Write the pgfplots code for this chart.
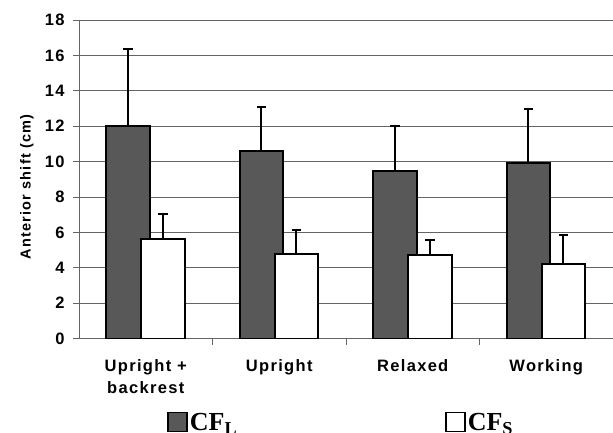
\documentclass[border=0pt]{standalone}
\usepackage{fontspec}
\setmainfont[LetterSpace=8]{Liberation Sans}
\newfontfamily\timesf{Liberation Serif}
\usepackage{pgfplots}
\pgfplotsset{compat=1.18}
\definecolor{darkbar}{RGB}{88,88,88}
\definecolor{gridc}{RGB}{100,100,100}
\begin{document}
\begin{tikzpicture}
\begin{axis}[
  scale only axis, width=534bp, height=318.5bp,
  xmin=0.5, xmax=4.5, ymin=0, ymax=18,
  ytick={0,2,...,18},
  axis x line*=bottom, axis y line*=left,
  axis line style={gridc, line width=0.8bp},
  ymajorgrids, grid style={gridc, line width=0.8bp},
  tick align=outside, major tick length=6bp,
  tick style={gridc, line width=0.8bp},
  xtick={1.5,2.5,3.5}, xticklabels={},
  extra x ticks={1,2,3,4},
  extra x tick labels={{Upright +\\backrest},Upright,Relaxed,Working},
  extra x tick style={major tick length=0pt, tick style={draw=none}},
  x tick label style={align=center, anchor=north, font=\fontsize{16.5bp}{21.5bp}\selectfont\bfseries, yshift=-18bp},
  y tick label style={font=\fontsize{16.5bp}{19bp}\selectfont\bfseries, xshift=-5bp},
  /pgf/number format/assume math mode=true,
  ylabel={Anterior shift (cm)},
  every axis y label/.style={at={(axis description cs:-0.0974,0.476)}, rotate=90, anchor=center, font=\fontsize{14.5bp}{17bp}\selectfont\bfseries},
  legend columns=2,
  legend style={draw=none, fill=none, at={(axis description cs:0.165,-0.264)}, anchor=west, inner sep=0pt,
    font=\timesf\bfseries\fontsize{26bp}{30bp}\selectfont,
    /tikz/every even column/.append style={column sep=206bp}},
]
\addplot[ybar, bar width=0.326, bar shift=0pt, fill=darkbar, draw=black, line width=2bp,
  legend image code/.code={\draw[fill=darkbar, draw=black, line width=1.6bp] (0bp,-9bp) rectangle (19bp,10bp);},
  error bars/.cd, y dir=plus, y explicit,
  error bar style={line width=2bp, black},
  error mark options={rotate=90, mark size=4.7bp, line width=2bp, black}]
  coordinates {(0.867,12.01) +- (0,4.37) (1.867,10.62) +- (0,2.48) (2.867,9.49) +- (0,2.52) (3.867,9.94) +- (0,3.03)};
\addlegendentry{CF\textsubscript{L}}
\addplot[ybar, bar width=0.326, bar shift=0pt, fill=white, draw=black, line width=2bp,
  legend image code/.code={\draw[fill=white, draw=black, line width=1.6bp] (0bp,-9bp) rectangle (19bp,10bp);},
  error bars/.cd, y dir=plus, y explicit,
  error bar style={line width=2bp, black},
  error mark options={rotate=90, mark size=4.7bp, line width=2bp, black}]
  coordinates {(1.128,5.64) +- (0,1.38) (2.128,4.78) +- (0,1.33) (3.128,4.70) +- (0,0.85) (4.128,4.23) +- (0,1.62)};
\addlegendentry{CF\textsubscript{S}}
\end{axis}
\pgfresetboundingbox
\path[use as bounding box] (-79bp,-94.5bp) rectangle (534bp,338.5bp);
\end{tikzpicture}
\end{document}
